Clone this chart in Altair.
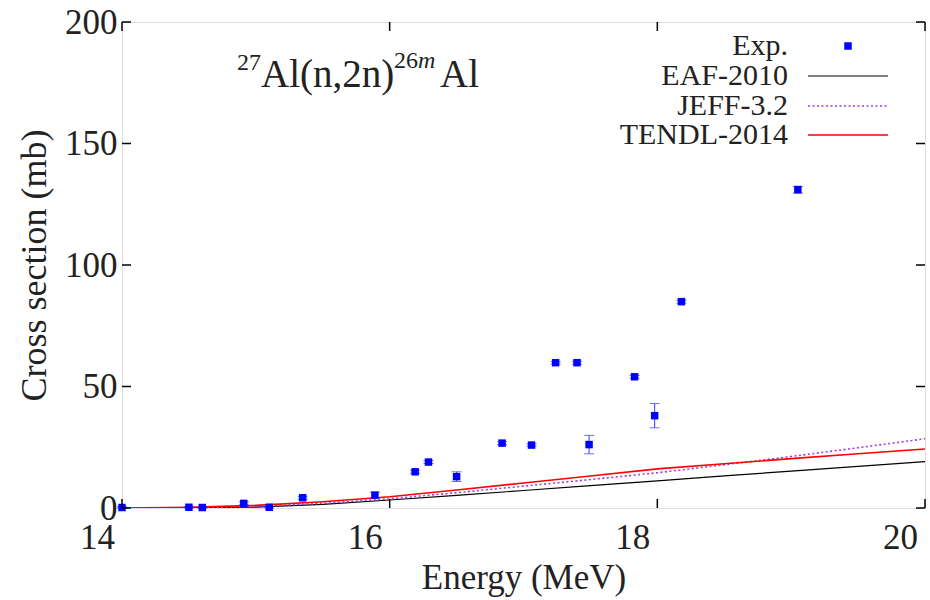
import altair as alt
import pandas as pd

# ---- data ----
exp_energy = [14.00, 14.50, 14.60, 14.91, 15.10, 15.35, 15.89, 16.19, 16.29, 16.50,
              16.84, 17.06, 17.24, 17.40, 17.49, 17.83, 17.98, 18.18, 19.05]
exp_xs = [0.2, 0.3, 0.2, 1.9, 0.3, 4.2, 5.3, 14.9, 18.9, 12.9,
          26.7, 25.9, 59.8, 59.8, 26.1, 54.0, 38.0, 84.9, 131.0]
exp_err = [0.3, 0.3, 0.3, 0.6, 0.3, 0.6, 1.2, 0.6, 0.6, 2.0,
           0.6, 0.5, 0.5, 0.6, 3.8, 0.6, 5.0, 0.6, 1.4]

eval_energy = [14.0, 14.5, 15.0, 15.5, 16.0, 16.5, 17.0, 17.5, 18.0, 18.5, 19.0, 19.5, 20.0]
eaf_2010 = [0.0, 0.1, 0.4, 1.5, 3.3, 5.2, 7.2, 9.2, 11.2, 13.2, 15.2, 17.1, 19.1]
jeff_32 = [0.0, 0.1, 0.6, 1.9, 3.8, 6.3, 9.0, 11.7, 14.5, 17.8, 21.2, 24.8, 28.5]
tendl_2014 = [0.0, 0.3, 1.1, 2.6, 4.6, 7.4, 10.3, 13.2, 16.1, 18.2, 20.3, 22.3, 24.3]

x_ticks = [14, 16, 18, 20]
y_ticks = [0, 50, 100, 150, 200]

FONT = "Liberation Serif"
W, H = 803, 486

exp_df = pd.DataFrame({"energy": exp_energy, "xs": exp_xs, "err": exp_err})
eval_df = pd.DataFrame({"energy": eval_energy, "eaf": eaf_2010, "jeff": jeff_32, "tendl": tendl_2014})

xscale = alt.Scale(domain=[14, 20], nice=False, zero=False)
yscale = alt.Scale(domain=[0, 200], nice=False)

xaxis = alt.Axis(values=x_ticks, ticks=False, domain=False, grid=False,
                 labelFont=FONT, labelFontSize=35, labelColor="#222",
                 labelPadding=12, labelOffset=-25, labelFlush=False,
                 title="Energy (MeV)", titleFont=FONT, titleFontSize=35,
                 titleFontWeight="normal", titleColor="#222",
                 titleY=80, titleBaseline="alphabetic")
yaxis = alt.Axis(values=y_ticks, ticks=False, domain=False, grid=False,
                 labelFont=FONT, labelFontSize=35, labelColor="#222",
                 labelPadding=5, labelFlush=False,
                 title="Cross section (mb)", titleFont=FONT, titleFontSize=36,
                 titleFontWeight="normal", titleColor="#222",
                 titleX=-88, titleY=H / 2, titleAngle=270,
                 titleAlign="center", titleBaseline="middle")

def X(f):
    return alt.X(f, scale=xscale, axis=xaxis)

def Y(f):
    return alt.Y(f, scale=yscale, axis=yaxis)

base = alt.Chart(eval_df)

eaf_line = base.mark_line(color="#000000", strokeWidth=1.2, clip=True).encode(
    x=X("energy:Q"), y=Y("eaf:Q"))
jeff_line = base.mark_line(color="#9a3fdc", strokeWidth=1.6, strokeDash=[2, 2.5], clip=True).encode(
    x=X("energy:Q"), y=Y("jeff:Q"))
tendl_line = base.mark_line(color="#ff0000", strokeWidth=1.6, clip=True).encode(
    x=X("energy:Q"), y=Y("tendl:Q"))

exp_base = alt.Chart(exp_df).transform_calculate(
    lo="datum.xs - datum.err", hi="datum.xs + datum.err"
)
err_rule = exp_base.mark_rule(color="#3333ff", strokeWidth=1).encode(
    x=X("energy:Q"), y=Y("lo:Q"), y2="hi:Q")
cap_lo = exp_base.mark_tick(color="#3333ff", orient="horizontal", size=10, thickness=1).encode(
    x=X("energy:Q"), y=Y("lo:Q"))
cap_hi = exp_base.mark_tick(color="#3333ff", orient="horizontal", size=10, thickness=1).encode(
    x=X("energy:Q"), y=Y("hi:Q"))
points = exp_base.mark_square(color="#0000ff", size=56, opacity=1).encode(
    x=X("energy:Q"), y=Y("xs:Q"))

# inward (gnuplot style) ticks, mirrored on all four sides
xt = alt.Chart(pd.DataFrame({"t": x_ticks}))
yt = alt.Chart(pd.DataFrame({"t": y_ticks}))
TL = 9
tick_b = xt.mark_rule(color="black", strokeWidth=1.5).encode(
    x=X("t:Q"), y=alt.value(H), y2=alt.value(H - TL))
tick_t = xt.mark_rule(color="black", strokeWidth=1.5).encode(
    x=X("t:Q"), y=alt.value(0), y2=alt.value(TL))
tick_l = yt.mark_rule(color="black", strokeWidth=1.5).encode(
    y=Y("t:Q"), x=alt.value(0), x2=alt.value(TL))
tick_r = yt.mark_rule(color="black", strokeWidth=1.5).encode(
    y=Y("t:Q"), x=alt.value(W), x2=alt.value(W - TL))

# reaction label
one = pd.DataFrame({"a": [0]})
def txt(s, x, y, size, style="normal"):
    return alt.Chart(one).mark_text(text=s, font=FONT, fontSize=size, fontStyle=style,
                                    color="#222", align="left", baseline="alphabetic").encode(
        x=alt.value(x), y=alt.value(y))

label = [
    txt("27", 115, 48, 24),
    txt("Al(n,2n)", 139, 65, 39),
    txt("26", 272, 46, 24),
    txt("m", 296, 46, 24, "italic"),
    txt("Al", 318, 65, 39),
]

# gnuplot-style key (labels left of samples)
LX, S1, S2 = 666, 686, 766
def key_text(s, y):
    return alt.Chart(one).mark_text(text=s, font=FONT, fontSize=30, color="#222",
                                    align="right", baseline="middle").encode(
        x=alt.value(LX), y=alt.value(y))

key = [
    key_text("Exp.", 24),
    alt.Chart(one).mark_square(color="#0000ff", size=56, opacity=1).encode(
        x=alt.value((S1 + S2) / 2), y=alt.value(24)),
    key_text("EAF-2010", 54),
    alt.Chart(one).mark_rule(color="#000000", strokeWidth=1.2).encode(
        x=alt.value(S1), x2=alt.value(S2), y=alt.value(54)),
    key_text("JEFF-3.2", 84),
    alt.Chart(one).mark_rule(color="#9a3fdc", strokeWidth=1.6, strokeDash=[2, 2.5]).encode(
        x=alt.value(S1), x2=alt.value(S2), y=alt.value(84)),
    key_text("TENDL-2014", 113),
    alt.Chart(one).mark_rule(color="#ff0000", strokeWidth=1.6).encode(
        x=alt.value(S1), x2=alt.value(S2), y=alt.value(113)),
]

chart = alt.layer(
    eaf_line, jeff_line, tendl_line, err_rule, cap_lo, cap_hi, points,
    tick_b, tick_t, tick_l, tick_r, *label, *key
).properties(
    width=W, height=H,
    autosize=alt.AutoSizeParams(type="none"),
    padding={"left": 122, "top": 22, "right": 5, "bottom": 92},
).configure_view(
    stroke="black", strokeWidth=2
).configure(background="white")

chart.save("out.html", embed_options={"renderer": "svg", "actions": False})
